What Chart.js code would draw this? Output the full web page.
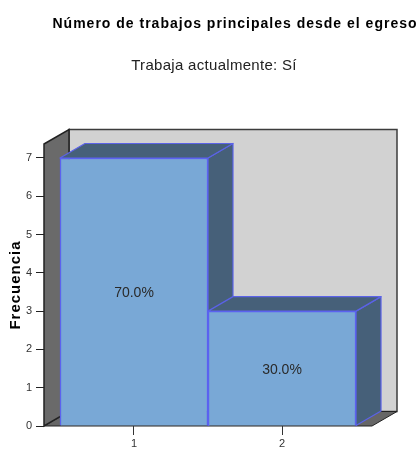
<!DOCTYPE html>
<html>
<head>
<meta charset="utf-8">
<style>
  body { margin: 0; background: #fff; }
  canvas { display: block; }
</style>
<script src="https://cdn.jsdelivr.net/npm/chart.js@4"></script>
</head>
<body>
<canvas id="chart" width="419" height="449"></canvas>
<script>
// Values
const categories = [1, 2];
const frequencies = [7, 3];
const percentLabels = ['70.0%', '30.0%'];
const chartTitle = 'Número de trabajos principales desde el egreso';
const chartSubtitle = 'Trabaja actualmente: Sí';
const yAxisTitle = 'Frecuencia';

// Depth of the fake 3D box, in pixels
const DEPTH_X = 25;
const DEPTH_Y = 14.5;

function polygon(ctx, points, fill, stroke, lineWidth) {
    ctx.beginPath();
    points.forEach((p, i) => i ? ctx.lineTo(p[0], p[1]) : ctx.moveTo(p[0], p[1]));
    ctx.closePath();
    if (fill) {
        ctx.fillStyle = fill;
        ctx.fill();
    }
    if (stroke) {
        ctx.strokeStyle = stroke;
        ctx.lineWidth = lineWidth || 1;
        ctx.stroke();
    }
}

// Back wall, left wall and floor go behind the axes
const boxPlugin = {
    id: 'box',
    beforeDraw(chart) {
        const ctx = chart.ctx;
        const a = chart.chartArea;
        ctx.save();
        polygon(ctx, [[a.left + DEPTH_X, a.top - DEPTH_Y], [a.right + DEPTH_X, a.top - DEPTH_Y],
            [a.right + DEPTH_X, a.bottom - DEPTH_Y], [a.left + DEPTH_X, a.bottom - DEPTH_Y]], '#d2d2d2', '#3c3c3c', 1.5);
        polygon(ctx, [[a.left, a.bottom], [a.right, a.bottom],
            [a.right + DEPTH_X, a.bottom - DEPTH_Y], [a.left + DEPTH_X, a.bottom - DEPTH_Y]], '#666666', '#222222', 1);
        polygon(ctx, [[a.left, a.top], [a.left + DEPTH_X, a.top - DEPTH_Y],
            [a.left + DEPTH_X, a.bottom - DEPTH_Y], [a.left, a.bottom]], '#6a6a6a', '#222222', 1.5);
        ctx.restore();
    },
    // Top and side faces of each bar, the front comes from Chart.js
    beforeDatasetsDraw(chart) {
        const ctx = chart.ctx;
        ctx.save();
        ctx.lineJoin = 'round';
        chart.getDatasetMeta(0).data.forEach(bar => {
            const left = bar.x - bar.width / 2;
            const right = bar.x + bar.width / 2;
            polygon(ctx, [[right, bar.y], [right + DEPTH_X, bar.y - DEPTH_Y],
                [right + DEPTH_X, bar.base - DEPTH_Y], [right, bar.base]], '#466079', '#5b62e8', 1.2);
            polygon(ctx, [[left, bar.y], [left + DEPTH_X, bar.y - DEPTH_Y],
                [right + DEPTH_X, bar.y - DEPTH_Y], [right, bar.y]], '#466079', '#5b62e8', 1.2);
        });
        ctx.restore();
    },
    afterDraw(chart) {
        const ctx = chart.ctx;
        const a = chart.chartArea;
        ctx.save();
        ctx.fillStyle = '#2a2a2a';
        ctx.textAlign = 'center';
        ctx.textBaseline = 'middle';
        ctx.font = '14px "Liberation Sans"';
        chart.getDatasetMeta(0).data.forEach((bar, i) => {
            ctx.fillText(percentLabels[i], bar.x, (bar.y + bar.base) / 2 + 1.5);
        });
        ctx.fillStyle = '#000';
        ctx.font = 'bold 14px "Liberation Sans"';
        ctx.letterSpacing = '1px';
        ctx.fillText(chartTitle, 235, 24);
        ctx.fillStyle = '#222';
        ctx.font = '15px "Liberation Sans"';
        ctx.letterSpacing = '0.3px';
        ctx.fillText(chartSubtitle, 214, 66);
        // y axis title, drawn here because it needs letter spacing
        ctx.fillStyle = '#000';
        ctx.font = 'bold 15px "Liberation Sans"';
        ctx.letterSpacing = '1px';
        ctx.translate(16, (a.top + a.bottom) / 2);
        ctx.rotate(-Math.PI / 2);
        ctx.fillText(yAxisTitle, 0, 0);
        ctx.restore();
    }
};

new Chart(document.getElementById('chart').getContext('2d'), {
    type: 'bar',
    data: {
        datasets: [{
            data: categories.map((c, i) => ({ x: c, y: frequencies[i] })),
            backgroundColor: '#79a8d6',
            borderColor: '#5b62f0',
            borderWidth: 1.5,
            barThickness: 148
        }]
    },
    plugins: [boxPlugin],
    options: {
        responsive: false,
        animation: false,
        layout: { padding: { top: 144, right: 47, left: 0, bottom: 0 } },
        plugins: {
            legend: { display: false },
            tooltip: { enabled: false }
        },
        scales: {
            x: {
                type: 'linear',
                offset: false,
                min: 0.392,
                max: 2.608,
                afterBuildTicks(scale) {
                    scale.ticks = categories.map(c => ({ value: c }));
                },
                afterFit(scale) {
                    scale.height = 23;
                },
                grid: { offset: false, drawOnChartArea: false, tickLength: 9, color: '#333', lineWidth: 1 },
                border: { display: false },
                ticks: {
                    color: '#333',
                    padding: 2,
                    maxRotation: 0,
                    font: { family: '"Liberation Sans"', size: 11 }
                }
            },
            y: {
                min: 0,
                max: 7.365,
                afterFit(scale) {
                    scale.width = 44;
                },
                grid: { drawOnChartArea: false, tickLength: 8, color: '#222', lineWidth: 1 },
                border: { display: false },
                ticks: {
                    stepSize: 1,
                    includeBounds: false,
                    color: '#333',
                    padding: 4,
                    font: { family: '"Liberation Sans"', size: 11 }
                }
            }
        }
    }
});
</script>
</body>
</html>
